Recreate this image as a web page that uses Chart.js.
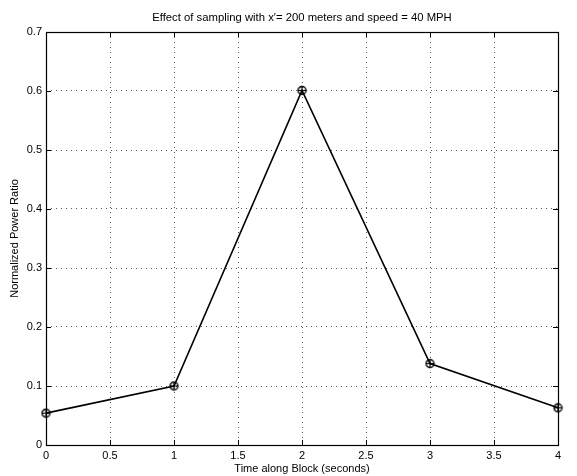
<!DOCTYPE html>
<html>
<head>
<meta charset="utf-8">
<script src="https://cdn.jsdelivr.net/npm/chart.js@4"></script>
<style>
html,body{margin:0;padding:0;background:#fff;}
#c{display:block;}
</style>
</head>
<body>
<canvas id="c" width="577" height="476"></canvas>
<script>
const timeSeconds = [0, 1, 2, 3, 4];
const powerRatio = [0.054, 0.100, 0.601, 0.138, 0.063];
const xTicks = [0, 0.5, 1, 1.5, 2, 2.5, 3, 3.5, 4];
const yTicks = [0, 0.1, 0.2, 0.3, 0.4, 0.5, 0.6, 0.7];
const titleText = "Effect of sampling with x\u2032= 200 meters and speed = 40 MPH";
const xLabel = "Time along Block (seconds)";
const yLabel = "Normalized Power Ratio";

const FONT = "'Liberation Sans', Arial, Helvetica, sans-serif";

// marker: circle with plus
const mk = document.createElement('canvas');
mk.width = 11; mk.height = 11;
(function(){
  const g = mk.getContext('2d');
  g.strokeStyle = '#000';
  g.lineWidth = 1.4;
  g.beginPath(); g.arc(5.5, 5.5, 4, 0, Math.PI*2); g.stroke();
  g.lineWidth = 1.2;
  g.beginPath(); g.moveTo(5.5, 1.5); g.lineTo(5.5, 9.5); g.moveTo(1.5, 5.5); g.lineTo(9.5, 5.5); g.stroke();
})();

const boxPlugin = {
  id: 'boxTicks',
  afterDraw(chart) {
    const {ctx, chartArea: a, scales} = chart;
    ctx.save();
    ctx.strokeStyle = '#000';
    ctx.lineWidth = 1;
    ctx.setLineDash([]);
    ctx.beginPath();
    const L = 5;
    xTicks.forEach(v => {
      const px = Math.round(scales.x.getPixelForValue(v)) + 0.5;
      ctx.moveTo(px, a.bottom); ctx.lineTo(px, a.bottom - L);
      ctx.moveTo(px, a.top); ctx.lineTo(px, a.top + L);
    });
    yTicks.forEach(v => {
      const py = Math.round(scales.y.getPixelForValue(v)) + 0.5;
      ctx.moveTo(a.left, py); ctx.lineTo(a.left + L, py);
      ctx.moveTo(a.right, py); ctx.lineTo(a.right - L, py);
    });
    ctx.stroke();
    ctx.lineWidth = 1.2;
    ctx.strokeRect(Math.round(a.left)+0.5, Math.round(a.top)+0.5, Math.round(a.right-a.left), Math.round(a.bottom-a.top));
    // title centred over the plot area
    ctx.fillStyle = '#000';
    ctx.font = "11.3px " + FONT;
    ctx.textAlign = 'center';
    ctx.textBaseline = 'middle';
    ctx.fillText(titleText, (a.left + a.right) / 2, 18);
    ctx.restore();
  }
};

new Chart(document.getElementById('c'), {
  type: 'line',
  data: {
    datasets: [{
      data: timeSeconds.map((t, i) => ({x: t, y: powerRatio[i]})),
      borderColor: '#000',
      borderWidth: 1.6,
      pointStyle: mk,
      pointRadius: 5,
      tension: 0,
      clip: false
    }]
  },
  options: {
    responsive: false,
    animation: false,
    devicePixelRatio: 1,
    layout: { padding: { left: 0, right: 19, top: 32, bottom: 0 } },
    plugins: {
      legend: { display: false },
      tooltip: { enabled: false },
      title: { display: false }
    },
    scales: {
      x: {
        type: 'linear',
        min: 0, max: 4,
        afterBuildTicks(s) { s.ticks = xTicks.map(v => ({value: v})); },
        afterFit(s) { s.height = 31; },
        ticks: {
          color: '#000',
          font: { family: FONT, size: 11 },
          padding: 4,
          maxRotation: 0,
          callback: v => String(v)
        },
        grid: { color: '#555', lineWidth: 1, drawTicks: false, tickLength: 0 },
        border: { display: false, dash: [1, 4] },
        title: {
          display: true, text: xLabel, color: '#000',
          font: { family: FONT, size: 11 },
          padding: { top: 0, bottom: 0 }
        }
      },
      y: {
        type: 'linear',
        min: 0, max: 0.7,
        afterBuildTicks(s) { s.ticks = yTicks.map(v => ({value: v})); },
        afterFit(s) { s.width = 46; },
        ticks: {
          color: '#000',
          font: { family: FONT, size: 11 },
          padding: 4,
          callback: v => String(Math.round(v*10)/10)
        },
        grid: { color: '#555', lineWidth: 1, drawTicks: false, tickLength: 0 },
        border: { display: false, dash: [1, 4] },
        title: {
          display: true, text: yLabel, color: '#000',
          font: { family: FONT, size: 11 },
          padding: { top: 8, bottom: 0 }
        }
      }
    }
  },
  plugins: [boxPlugin]
});
</script>
</body>
</html>
